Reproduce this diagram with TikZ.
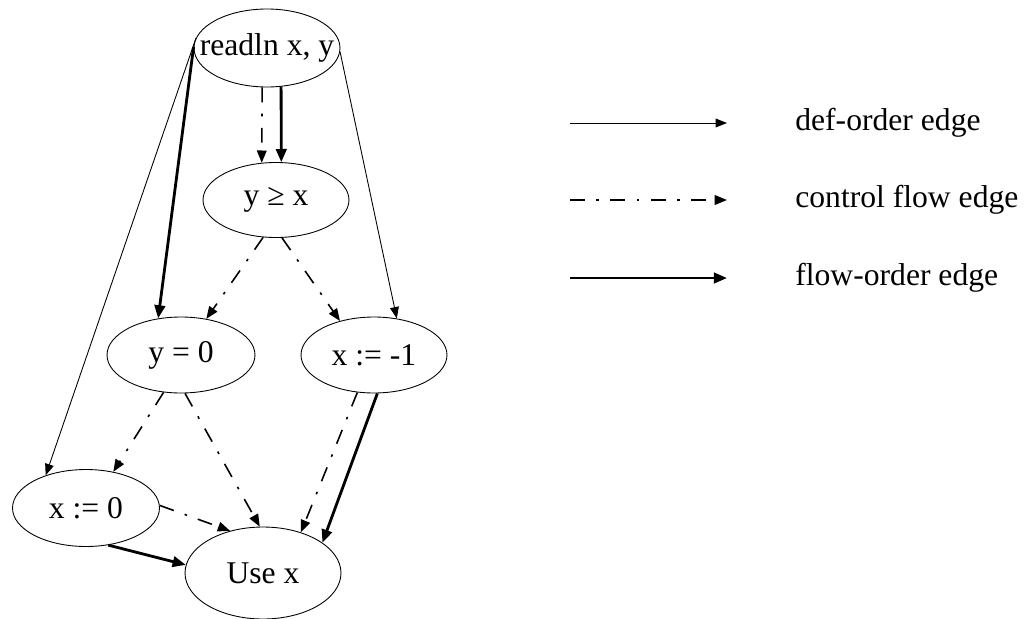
\documentclass[tikz,border=0pt]{standalone}
\usepackage{fontspec}
\setmainfont{Liberation Serif}
\usetikzlibrary{arrows.meta, shapes.geometric}

\begin{document}
\begin{tikzpicture}[x=0.02cm, y=-0.02cm,
        every node/.style={font=\fontsize{18}{21}\selectfont},
        nd/.style={draw, ellipse, inner sep=0pt, line width=0.5pt},
        defedge/.style={line width=0.5pt, -{Triangle[length=6.5pt,width=5pt]}},
        ctrledge/.style={line width=0.9pt, dash pattern=on 8.5pt off 6.5pt on 1.5pt off 6.5pt, -{Triangle[length=7pt,width=5.5pt]}},
        flowedge/.style={line width=1.6pt, -{Triangle[length=7.5pt,width=6pt]}}]
        \useasboundingbox (0,0) rectangle (1025,619);

        % nodes
        \node[nd, minimum width=2.92cm, minimum height=1.56cm] (read) at (267,48) {\makebox[0pt]{readln x, y}};
        \node[nd, minimum width=2.92cm, minimum height=1.50cm] (cond) at (276,200) {\makebox[0pt]{y ≥ x}};
        \node[nd, minimum width=2.96cm, minimum height=1.52cm] (yzero) at (181,355) {\makebox[0pt]{y = 0}};
        \node[nd, minimum width=2.92cm, minimum height=1.52cm] (xneg) at (374,355) {\makebox[0pt]{x := -1}};
        \node[nd, minimum width=2.94cm, minimum height=1.54cm] (xzero) at (86,508) {\makebox[0pt]{x := 0}};
        \node[nd, minimum width=3.12cm, minimum height=1.84cm] (use) at (263,573) {\makebox[0pt]{Use x}};

        % edges
        \draw[defedge] (read.172) -- (xzero.141);
        \draw[flowedge] (read.179) -- (yzero.122);
        \draw[ctrledge] (read.263) -- (cond.111);
        \draw[flowedge] (read.290) -- (cond.82);
        \draw[defedge] (read.357) -- (xneg.58);
        \draw[ctrledge] (cond.251) -- (yzero.55);
        \draw[ctrledge] (cond.279) -- (xneg.135);
        \draw[ctrledge] (yzero.245) -- (xzero.53);
        \draw[ctrledge] (yzero.276) -- (use.94);
        \draw[ctrledge] (xneg.246) -- (use.47);
        \draw[flowedge] (xneg.275) -- (use.27);
        \draw[ctrledge] (xzero.2) -- (use.128);
        \draw[flowedge] (xzero.301) -- (use.174);

        % legend
        \coordinate (defa) at (570,123);
        \coordinate (defb) at (727,123);
        \coordinate (ctrla) at (570,200);
        \coordinate (ctrlb) at (727,200);
        \coordinate (flowa) at (570,278);
        \coordinate (flowb) at (727,278);
        \draw[defedge] (defa) -- (defb);
        \draw[ctrledge] (ctrla) -- (ctrlb);
        \draw[flowedge] (flowa) -- (flowb);
        \node[anchor=west, inner sep=0pt] (deftxt) at (795,123) {def-order edge};
        \node[anchor=west, inner sep=0pt] (ctrltxt) at (795,200) {control flow edge};
        \node[anchor=west, inner sep=0pt] (flowtxt) at (795,278) {flow-order edge};
\end{tikzpicture}
\end{document}
